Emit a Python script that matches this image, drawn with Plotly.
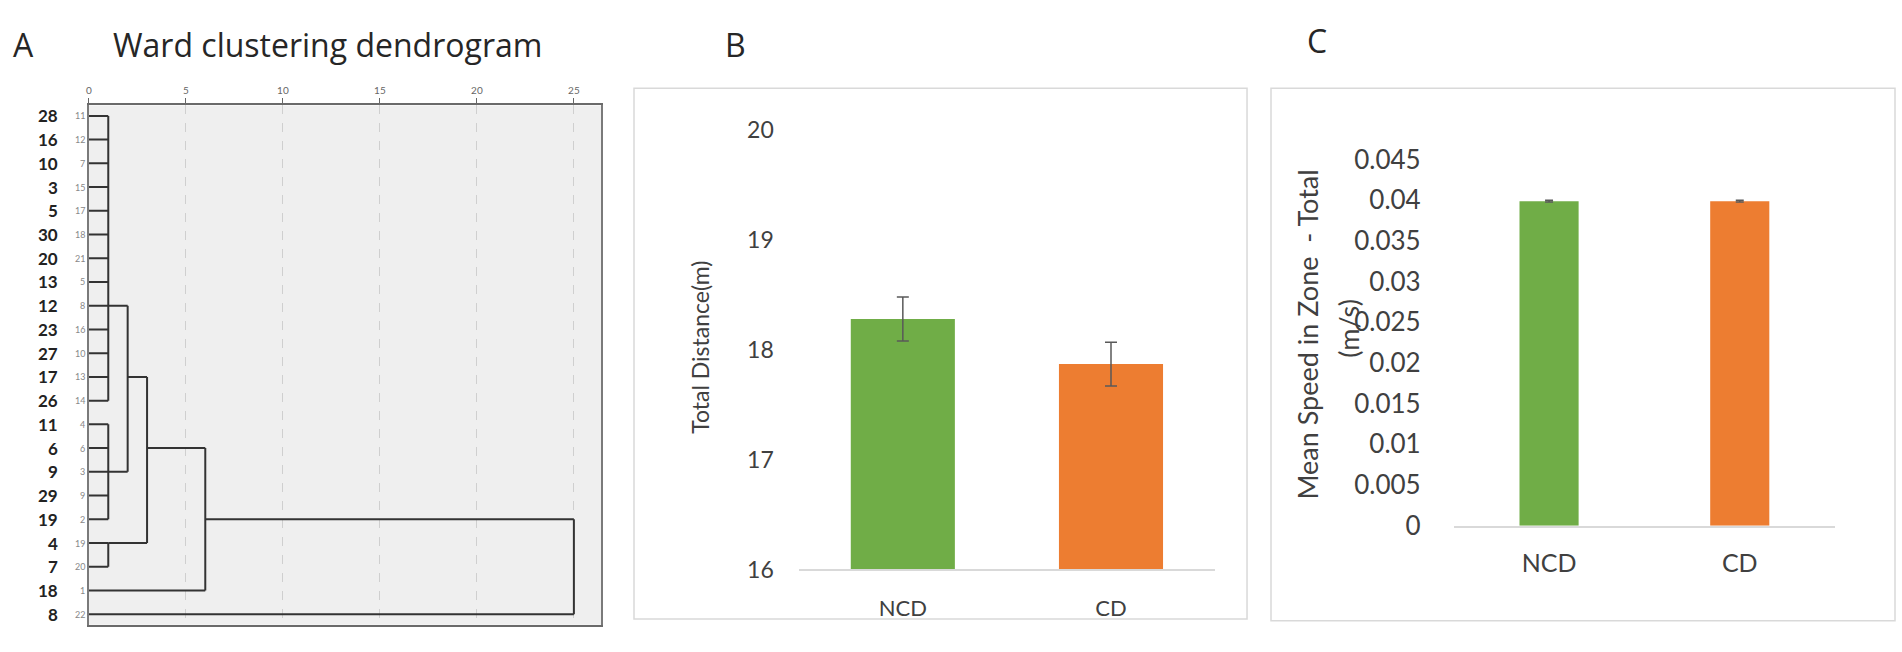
import math
import plotly.graph_objects as go

# ---------------- data ----------------
leaf_labels = ["28", "16", "10", "3", "5", "30", "20", "13", "12", "23", "27", "17", "26",
               "11", "6", "9", "29", "19", "4", "7", "18", "8"]
case_numbers = ["11", "12", "7", "15", "17", "18", "21", "5", "8", "16", "10", "13", "14",
                "4", "6", "3", "9", "2", "19", "20", "1", "22"]

# flat clusters (all members join at one height)
flat_names = ["A", "B", "C"]
flat_members = [
    ["28", "16", "10", "3", "5", "30", "20", "13", "12", "23", "27", "17", "26"],
    ["11", "6", "9", "29", "19"],
    ["4", "7"],
]
flat_heights = [1.0, 1.0, 1.0]
flat_link_leaf = ["12", "9", "4"]

# binary merges
merge_names = ["AB", "ABC", "ABCD", "ROOT"]
merge_left = ["A", "AB", "ABC", "ABCD"]
merge_right = ["B", "C", "18", "8"]
merge_heights = [2.0, 3.0, 6.0, 25.0]

dendro_ticks = [0, 5, 10, 15, 20, 25]

groups = ["NCD", "CD"]
group_colors = ["#70AD47", "#ED7D31"]
distance_mean = [18.28, 17.87]
distance_err = [0.2, 0.2]
distance_ticks = [16, 17, 18, 19, 20]
speed_mean = [0.0399, 0.0399]
speed_err = [0.0001, 0.0001]
speed_tickvals = [0, 0.005, 0.01, 0.015, 0.02, 0.025, 0.03, 0.035, 0.04, 0.045]
speed_ticktext = ["0", "0.005", "0.01", "0.015", "0.02", "0.025", "0.03", "0.035", "0.04", "0.045"]

# ---------------- helpers ----------------
W, H = 1902, 652


def px(x):
    return x / W


def py(y):
    return 1 - y / H


# ---------------- dendrogram geometry ----------------
row = {lab: i + 1 for i, lab in enumerate(leaf_labels)}
anchor = {lab: row[lab] for lab in leaf_labels}
height = {lab: 0.0 for lab in leaf_labels}
xs, ys = [], []


def seg(x0, y0, x1, y1):
    xs.extend([x0, x1, None])
    ys.extend([y0, y1, None])


for name, members, h, link in zip(flat_names, flat_members, flat_heights, flat_link_leaf):
    rows = [row[m] for m in members]
    for m in members:
        seg(0, row[m], h, row[m])
    seg(h, min(rows), h, max(rows))
    anchor[name] = row[link]
    height[name] = h

for name, l, r, h in zip(merge_names, merge_left, merge_right, merge_heights):
    for c in (l, r):
        seg(height[c], anchor[c], h, anchor[c])
    seg(h, anchor[l], h, anchor[r])
    anchor[name] = math.floor((anchor[l] + anchor[r]) / 2)
    height[name] = h

fig = go.Figure()
fig.add_trace(go.Scatter(x=xs, y=ys, mode="lines", line=dict(color="#333333", width=2),
                         xaxis="x", yaxis="y", hoverinfo="skip"))

fig.add_trace(go.Bar(x=groups, y=distance_mean, marker=dict(color=group_colors, line=dict(width=0)),
                     width=0.5,
                     error_y=dict(type="data", array=distance_err, color="#595959", thickness=1.5, width=6),
                     xaxis="x2", yaxis="y2"))
fig.add_trace(go.Bar(x=groups, y=speed_mean, marker=dict(color=group_colors, line=dict(width=0)),
                     width=0.31,
                     error_y=dict(type="data", array=speed_err, color="#595959", thickness=1.5, width=4),
                     xaxis="x3", yaxis="y3"))

nrows = len(leaf_labels)
tick_font = dict(family="Lato", color="#404040")

fig.update_layout(
    width=W, height=H, margin=dict(l=0, r=0, t=0, b=0),
    paper_bgcolor="white", plot_bgcolor="white", showlegend=False,
    xaxis=dict(domain=[px(86), px(599)], range=[0, 26.4], side="top", anchor="y",
               tickvals=dendro_ticks, ticks="outside", ticklen=5, tickcolor="#666",
               tickfont=dict(family="Lato", size=10, color="#666"),
               showline=True, linecolor="#6a6a6a", linewidth=2, mirror=True,
               showgrid=True, gridcolor="#cfcfcf", griddash="dash", gridwidth=1, zeroline=False),
    yaxis=dict(domain=[py(639), py(93)], range=[nrows + 0.44, 0.56], anchor="x",
               showticklabels=False, ticks="", showgrid=False, zeroline=False,
               showline=True, linecolor="#7a7a7a", linewidth=2, mirror=True),
    xaxis2=dict(domain=[px(797), px(1214)], anchor="y2", showline=True, linecolor="#d9d9d9",
                linewidth=1.5, ticks="", tickfont=dict(size=22, **tick_font), ticklabelstandoff=18,
                showgrid=False, zeroline=False),
    yaxis2=dict(domain=[py(581), py(119)], range=[16, 20], anchor="x2", tickvals=distance_ticks,
                ticks="", showline=False, showgrid=False, zeroline=False,
                tickfont=dict(size=23, **tick_font), ticklabelstandoff=24),
    xaxis3=dict(domain=[px(1453), px(1835)], anchor="y3", showline=True, linecolor="#d9d9d9",
                linewidth=1.5, ticks="", tickfont=dict(size=25, **tick_font), ticklabelstandoff=15,
                showgrid=False, zeroline=False),
    yaxis3=dict(domain=[py(535), py(150)], range=[0, 0.045], anchor="x3",
                tickvals=speed_tickvals, ticktext=speed_ticktext,
                ticks="", showline=False, showgrid=False, zeroline=False,
                tickfont=dict(size=26, **tick_font), ticklabelstandoff=32),
)

shapes = [
    dict(type="rect", xref="x domain", yref="y domain", x0=0, x1=1, y0=0, y1=1,
         fillcolor="#efefef", line=dict(width=0), layer="below"),
    dict(type="rect", xref="paper", yref="paper", x0=px(632), x1=px(1246), y0=py(633), y1=py(75),
         line=dict(color="#d9d9d9", width=1.5), fillcolor="rgba(0,0,0,0)"),
    dict(type="rect", xref="paper", yref="paper", x0=px(1270), x1=px(1895), y0=py(635), y1=py(75),
         line=dict(color="#d9d9d9", width=1.5), fillcolor="rgba(0,0,0,0)"),
]
fig.update_layout(shapes=shapes)

ann = []
for lab, case in zip(leaf_labels, case_numbers):
    ann.append(dict(xref="x", yref="y", x=0, y=row[lab], text="<b>" + lab + "</b>", showarrow=False,
                    xanchor="right", yanchor="middle", xshift=-29,
                    font=dict(family="Lato", size=17, color="#222")))
    ann.append(dict(xref="x", yref="y", x=0, y=row[lab], text=case, showarrow=False,
                    xanchor="right", yanchor="middle", xshift=-2,
                    font=dict(family="Lato", size=9, color="#888")))

title_font = dict(family="Open Sans", size=32, color="#262626")
ann += [
    dict(xref="paper", yref="paper", x=px(21), y=py(29), text="A", showarrow=False,
         xanchor="center", yanchor="middle", font=title_font),
    dict(xref="paper", yref="paper", x=px(325), y=py(29), text="Ward clustering dendrogram",
         showarrow=False, xanchor="center", yanchor="middle", font=title_font),
    dict(xref="paper", yref="paper", x=px(734), y=py(29), text="B", showarrow=False,
         xanchor="center", yanchor="middle", font=title_font),
    dict(xref="paper", yref="paper", x=px(1316), y=py(25), text="C", showarrow=False,
         xanchor="center", yanchor="middle", font=title_font),
    dict(xref="paper", yref="paper", x=px(698), y=py(347), text="Total Distance(m)", showarrow=False,
         textangle=-90, xanchor="center", yanchor="middle",
         font=dict(family="Lato", size=23, color="#404040")),
    dict(xref="paper", yref="paper", x=px(1307), y=py(334), text="Mean Speed in Zone  - Total",
         showarrow=False, textangle=-90, xanchor="center", yanchor="middle",
         font=dict(family="Lato", size=27, color="#404040")),
    dict(xref="paper", yref="paper", x=px(1348), y=py(327), text="(m/s)", showarrow=False,
         textangle=-90, xanchor="center", yanchor="middle",
         font=dict(family="Lato", size=27, color="#404040")),
]
fig.update_layout(annotations=ann)

fig.write_html("out.html", config={"displayModeBar": False},
               post_script="document.body.style.margin='0px';")
